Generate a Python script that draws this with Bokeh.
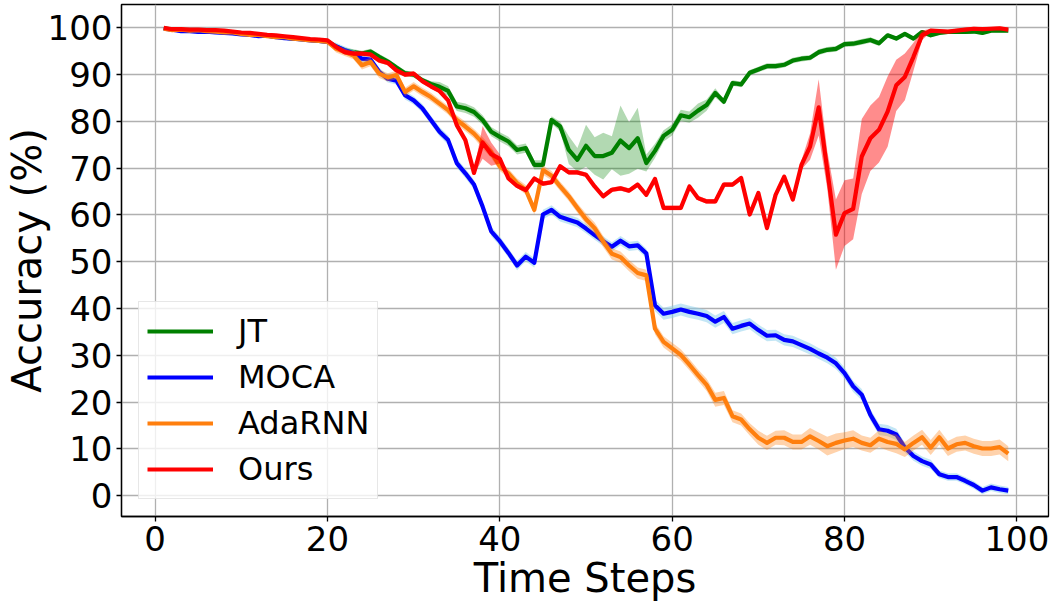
from bokeh.plotting import figure
from bokeh.models import Range1d, FixedTicker, Legend, LegendItem
from bokeh.embed import file_html
from bokeh.resources import INLINE

steps = list(range(1, 100))

jt_mean = [99.9, 99.6, 99.5, 99.5, 99.3, 99.3, 99.2, 99.0, 98.9, 98.8, 98.6, 98.4, 98.3, 98.1, 97.9, 97.7, 97.6, 97.4, 97.2, 97.1,
           96.0, 95.2, 94.8, 94.5, 94.9, 93.8, 92.8, 91.5, 90.3, 90.0,
           88.8, 88.0, 87.4, 86.5, 83.2, 82.8, 82.0, 80.3, 77.8, 76.7,
           75.7, 73.9, 74.3, 70.7, 70.7, 80.3, 78.9, 73.9, 71.8, 74.8,
           72.6, 72.6, 73.3, 75.9, 74.3, 76.4, 71.1, 73.7, 76.9, 78.2,
           81.3, 80.9, 82.3, 83.5, 86.1, 84.2, 88.2, 87.9, 90.4, 91.1,
           91.8, 91.8, 92.1, 93.0, 93.4, 93.6, 94.8, 95.3, 95.5, 96.5,
           96.6, 97.0, 97.4, 96.7, 98.4, 97.7, 98.7, 97.7, 99.1, 98.4,
           98.9, 99.1, 99.1, 99.1, 99.2, 98.9, 99.4, 99.4, 99.4]
jt_std = [0.3, 0.3, 0.3, 0.3, 0.3, 0.3, 0.3, 0.3, 0.3, 0.3, 0.3, 0.3, 0.3, 0.3, 0.3, 0.3, 0.3, 0.3, 0.3, 0.3,
          0.6, 0.6, 0.6, 0.6, 0.6, 0.6, 0.6, 0.6, 0.6, 0.6,
          0.6, 0.6, 1.0, 1.0, 1.0, 1.0, 1.0, 1.0, 1.0, 1.0,
          1.0, 1.0, 1.0, 1.0, 1.0, 0.8, 1.0, 3.0, 2.5, 4.5,
          4.0, 5.0, 3.5, 7.5, 5.5, 6.5, 1.8, 1.5, 1.2, 1.2,
          1.2, 1.2, 1.5, 1.2, 1.0, 0.6, 0.6, 0.6, 0.6, 0.6,
          0.6, 0.6, 0.6, 0.6, 0.6, 0.6, 0.6, 0.6, 0.6, 0.6,
          0.6, 0.6, 0.6, 0.6, 0.4, 0.4, 0.4, 0.4, 0.4, 0.4,
          0.4, 0.4, 0.4, 0.4, 0.4, 0.4, 0.4, 0.4, 0.4]

moca_mean = [99.8, 99.6, 99.3, 99.3, 99.1, 99.2, 99.0, 98.9, 98.8, 98.6, 98.5, 98.2, 98.3, 98.0, 97.8, 97.7, 97.5, 97.3, 97.2, 97.0,
             96.0, 95.2, 94.5, 93.4, 93.2, 90.6, 89.1, 88.7, 85.6, 84.5,
             82.8, 80.3, 77.8, 76.0, 71.1, 68.9, 66.5, 61.8, 56.5, 54.4,
             51.9, 49.2, 51.1, 49.8, 60.1, 61.1, 59.6, 59.0, 58.4, 57.1,
             55.7, 54.4, 53.2, 54.5, 53.3, 53.5, 51.8, 40.7, 38.9, 39.3,
             39.8, 39.3, 38.9, 38.4, 37.2, 38.2, 35.7, 36.3, 36.8, 35.4,
             34.2, 34.3, 33.3, 33.0, 32.2, 31.4, 30.4, 29.5, 28.3, 26.2,
             23.4, 21.6, 17.3, 14.2, 13.9, 13.1, 10.3, 8.5, 7.4, 6.7,
             4.6, 4.0, 4.0, 3.2, 2.3, 1.1, 1.8, 1.4, 1.1]
moca_std = [0.3, 0.3, 0.3, 0.3, 0.3, 0.3, 0.3, 0.3, 0.3, 0.3, 0.3, 0.3, 0.3, 0.3, 0.3, 0.3, 0.3, 0.3, 0.3, 0.3,
            0.8, 0.8, 0.8, 0.8, 0.8, 0.8, 0.8, 0.8, 0.9, 0.9,
            0.9, 0.9, 1.0, 1.0, 1.0, 1.0, 1.0, 1.0, 1.0, 1.0,
            1.0, 1.0, 1.0, 1.0, 1.0, 1.0, 1.0, 1.0, 1.0, 1.0,
            1.0, 1.0, 1.0, 1.0, 1.0, 1.0, 1.0, 1.2, 1.3, 1.3,
            1.3, 1.3, 1.3, 1.3, 1.3, 1.3, 1.2, 1.2, 1.2, 1.2,
            1.2, 1.2, 1.2, 1.2, 1.2, 1.2, 1.2, 1.2, 1.2, 1.2,
            1.2, 1.2, 1.2, 1.2, 1.2, 1.2, 1.0, 1.0, 1.0, 1.0,
            0.8, 0.8, 0.8, 0.8, 0.8, 0.8, 0.8, 0.8, 0.8]

adarnn_mean = [99.8, 99.5, 99.6, 99.4, 99.5, 99.3, 99.2, 99.0, 99.0, 98.7, 98.5, 98.5, 98.2, 98.0, 98.0, 97.7, 97.5, 97.3, 97.2, 97.0,
               95.5, 94.8, 94.1, 92.0, 92.7, 90.2, 89.4, 89.9, 86.3, 87.5,
               86.3, 85.2, 83.8, 82.4, 80.3, 78.9, 77.4, 75.4, 73.4, 70.4,
               68.9, 66.8, 65.4, 61.1, 69.6, 68.4, 66.1, 64.0, 61.5, 59.1,
               57.2, 54.3, 51.7, 51.0, 49.2, 47.6, 47.1, 35.7, 32.9, 31.5,
               30.1, 28.0, 25.8, 23.7, 20.5, 20.9, 17.0, 16.3, 14.2, 12.4,
               11.3, 12.4, 12.4, 11.5, 11.5, 12.7, 11.7, 10.6, 11.3, 11.8,
               12.2, 11.3, 10.8, 12.2, 11.5, 11.1, 9.9, 11.3, 12.5, 10.3,
               12.5, 10.1, 11.0, 11.3, 10.6, 10.1, 10.1, 10.4, 9.0]
adarnn_std = [0.3, 0.3, 0.3, 0.3, 0.3, 0.3, 0.3, 0.3, 0.3, 0.3, 0.3, 0.3, 0.3, 0.3, 0.3, 0.3, 0.3, 0.3, 0.3, 0.3,
              0.8, 0.8, 0.8, 0.9, 0.9, 0.9, 0.9, 0.9, 0.9, 0.9,
              0.9, 0.9, 0.9, 0.9, 1.0, 1.0, 1.0, 1.2, 1.2, 1.0,
              1.0, 1.0, 1.0, 1.0, 1.0, 1.0, 1.0, 1.0, 1.0, 1.2,
              1.2, 1.2, 1.2, 1.2, 1.2, 1.2, 1.2, 1.2, 1.2, 1.2,
              1.2, 1.2, 1.2, 1.3, 1.5, 1.5, 1.3, 1.3, 1.3, 1.5,
              1.5, 1.5, 1.6, 1.6, 1.6, 1.8, 1.8, 2.0, 2.0, 1.8,
              1.8, 1.6, 1.6, 1.8, 1.8, 2.0, 1.6, 1.6, 1.6, 1.6,
              1.6, 1.6, 1.6, 1.6, 1.6, 1.6, 1.6, 1.6, 1.6]

ours_mean = [100.0, 99.7, 99.7, 99.6, 99.6, 99.5, 99.5, 99.4, 99.2, 99.0, 98.9, 98.7, 98.5, 98.4, 98.2, 98.0, 97.8, 97.6, 97.5, 97.3,
             95.9, 94.8, 94.5, 94.5, 94.3, 93.0, 92.5, 90.9, 90.0, 90.2,
             88.6, 87.5, 86.5, 84.5, 79.2, 76.0, 69.0, 75.5, 73.0, 72.0,
             67.8, 66.2, 65.3, 67.8, 66.7, 67.0, 70.4, 69.1, 69.1, 68.6,
             66.1, 64.0, 65.4, 65.7, 65.2, 66.5, 64.3, 67.7, 61.5, 61.5,
             61.5, 66.1, 63.6, 62.9, 62.9, 66.5, 66.5, 67.9, 60.1, 64.7,
             57.2, 64.3, 68.2, 63.3, 70.7, 74.6, 83.0, 69.6, 55.8, 60.4,
             61.3, 72.5, 76.4, 78.2, 82.1, 87.7, 89.5, 93.8, 98.4, 99.4,
             99.3, 99.2, 99.4, 99.6, 99.8, 99.7, 99.8, 99.9, 99.6]
ours_std = [0.3, 0.3, 0.3, 0.3, 0.3, 0.3, 0.3, 0.3, 0.3, 0.3, 0.3, 0.3, 0.3, 0.3, 0.3, 0.3, 0.3, 0.3, 0.3, 0.3,
            0.5, 0.5, 0.5, 0.5, 0.5, 0.5, 0.5, 0.5, 0.5, 0.5,
            0.5, 0.5, 0.5, 0.5, 0.5, 0.5, 0.5, 3.5, 2.5, 1.0,
            0.5, 0.5, 0.5, 0.5, 0.5, 0.5, 0.5, 0.5, 0.5, 0.5,
            0.5, 0.5, 0.5, 0.5, 0.5, 0.5, 0.5, 0.5, 0.5, 0.5,
            0.5, 0.5, 0.5, 0.5, 0.5, 0.5, 0.5, 0.5, 0.5, 0.5,
            0.5, 0.5, 0.5, 0.5, 1.0, 2.8, 6.0, 4.0, 7.5, 7.0,
            6.5, 8.0, 7.0, 7.0, 7.5, 5.5, 5.0, 3.0, 1.0, 0.4,
            0.4, 0.4, 0.4, 0.4, 0.4, 0.4, 0.4, 0.4, 0.4]

series_names = ["JT", "MOCA", "AdaRNN", "Ours"]
line_colors = ["#008000", "#0000ff", "#ff7f0e", "#ff0000"]
band_colors = ["#008000", "#87ceeb", "#ff7f0e", "#ff0000"]
band_alphas = [0.3, 0.5, 0.35, 0.45]
x_ticks = [0, 20, 40, 60, 80, 100]
y_ticks = [0, 10, 20, 30, 40, 50, 60, 70, 80, 90, 100]

FONT = "DejaVu Sans"

p = figure(width=1050, height=603, output_backend="svg", toolbar_location=None,
           x_range=Range1d(-3.906, 103.67), y_range=Range1d(-4.43, 104.98),
           min_border_left=120, min_border_right=2, min_border_top=4, min_border_bottom=85)
p.background_fill_color = "white"
p.border_fill_color = "white"
p.outline_line_color = "black"
p.outline_line_width = 1.3

all_means = [jt_mean, moca_mean, adarnn_mean, ours_mean]
all_stds = [jt_std, moca_std, adarnn_std, ours_std]

items = []
for name, m, s, lc, bc, ba in zip(series_names, all_means, all_stds, line_colors, band_colors, band_alphas):
    lo = [a - b for a, b in zip(m, s)]
    hi = [a + b for a, b in zip(m, s)]
    p.varea(x=steps, y1=lo, y2=hi, fill_color=bc, fill_alpha=ba)
    r = p.line(x=steps, y=m, line_color=lc, line_width=4.2, line_join="round")
    items.append(LegendItem(label=name, renderers=[r]))

legend = Legend(items=items, location=(17, 17))
legend.label_text_font = FONT
legend.label_text_font_size = "32px"
legend.label_text_color = "black"
legend.label_standoff = 25
legend.glyph_width = 66
legend.glyph_height = 42
legend.label_height = 42
legend.spacing = 4
legend.padding = 8
legend.margin = 0
legend.background_fill_color = "white"
legend.background_fill_alpha = 0.8
legend.border_line_color = "#d0d0d0"
legend.border_line_width = 1
p.add_layout(legend, "center")

p.xaxis.ticker = FixedTicker(ticks=x_ticks)
p.yaxis.ticker = FixedTicker(ticks=y_ticks)
for ax in (p.xaxis, p.yaxis):
    ax.major_label_text_font = FONT
    ax.major_label_text_font_size = "34px"
    ax.major_label_text_color = "black"
    ax.axis_label_text_font = FONT
    ax.axis_label_text_font_size = "40px"
    ax.axis_label_text_font_style = "normal"
    ax.axis_label_text_color = "black"
    ax.major_tick_out = 5
    ax.major_tick_in = 0
    ax.minor_tick_line_color = None
    ax.major_tick_line_color = "black"
    ax.major_tick_line_width = 1.3
    ax.axis_line_color = "black"
    ax.axis_line_width = 1.3
    ax.major_label_standoff = 4

p.xaxis.axis_label = "Time Steps"
p.yaxis.axis_label = "Accuracy (%)"
p.xaxis.axis_label_standoff = 1
p.yaxis.axis_label_standoff = -5

p.grid.grid_line_color = "#b0b0b0"
p.grid.grid_line_width = 1.3
p.xgrid.ticker = FixedTicker(ticks=x_ticks)
p.ygrid.ticker = FixedTicker(ticks=y_ticks)

open("out.html", "w").write(file_html(p, INLINE))
